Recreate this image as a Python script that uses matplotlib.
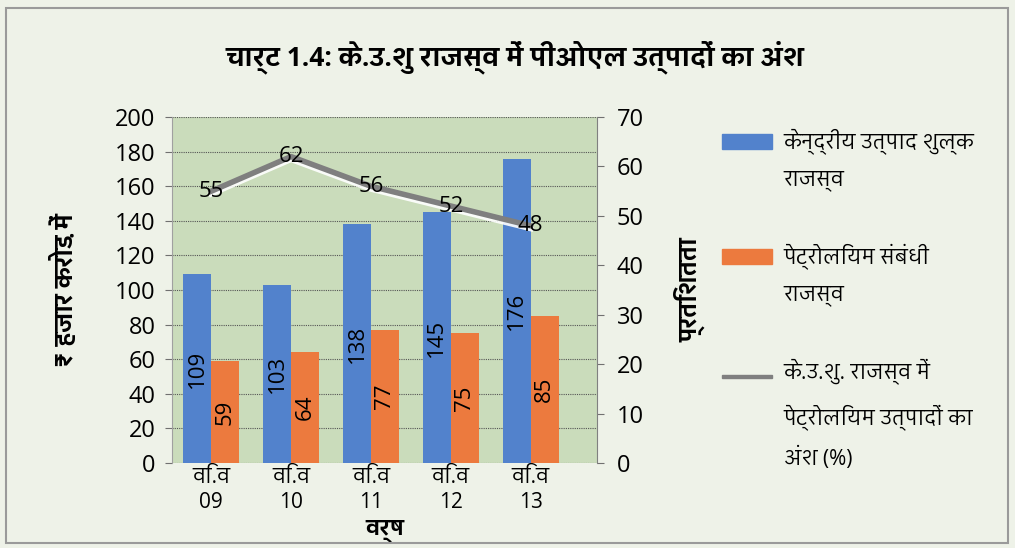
import matplotlib
matplotlib.use('Agg')
from matplotlib import pyplot as pl
from matplotlib import font_manager as fm
from matplotlib import patheffects as pe
from matplotlib.ft2font import FT2Font
from matplotlib.patches import Rectangle, Patch
from matplotlib.legend_handler import HandlerPatch
import numpy as np

years = ['वि.व\n09', 'वि.व\n10', 'वि.व\n11', 'वि.व\n12', 'वि.व\n13']
excise = [109, 103, 138, 145, 176]
petro = [59, 64, 77, 75, 85]
share = [55, 62, 56, 52, 48]

labels = [
    'केन्द्रीय उत्पाद शुल्क\nराजस्व',
    'पेट्रोलियम संबंधी\nराजस्व',
    'के.उ.शु. राजस्व में\nपेट्रोलियम उत्पादों का\nअंश (%)',
]
title = 'चार्ट 1.4: के.उ.शु राजस्व में पीओएल उत्पादों का अंश'


def find_devanagari():
    # collect fonts with devanagari glyphs, prefer proportional ones with a bold face
    found = {}
    for f in fm.fontManager.ttflist:
        try:
            cmap = FT2Font(f.fname).get_charmap()
        except Exception:
            continue
        if 0x0915 not in cmap:
            continue
        found.setdefault(f.name, set()).add(f.weight)
    best, best_score = None, -999
    for name, weights in found.items():
        score = 0
        low = name.lower()
        if 'mono' in low or 'code' in low:
            score -= 20
        if 'devanagari' in low:
            score += 10
        if 'sans' in low:
            score += 3
        if 'ui' in low.split():
            score -= 1
        if any(isinstance(wt, int) and wt >= 600 or wt == 'bold' for wt in weights):
            score += 5
        if score > best_score:
            best, best_score = name, score
    return best


dev = find_devanagari()
family = ['Open Sans', 'DejaVu Sans']
if dev:
    family = ['Open Sans', dev, 'DejaVu Sans']
pl.rcParams['font.family'] = family

blue = '#5282cc'
orange = '#ec7a3e'
grey = '#7f7f7f'
bg = '#eef2e8'
plotbg = '#cadcbb'

legsize = 15
pitch = 27.5  # points between lines of a legend label


def top_aligned(nlines, thin=False):
    # legend handle drawn level with the first line of a multi-line label
    def make(legend, orig_handle, xdescent, ydescent, width, height, fontsize):
        up = (nlines - 1) * pitch / 2
        if thin:
            return Rectangle((-xdescent, -ydescent + height/2 - 1.2 + up), width, 2.4)
        return Rectangle((-xdescent, -ydescent + up), width, height)
    return make


fig = pl.figure(figsize=(10.15, 5.48), dpi=100, facecolor=bg)
fig.patches.append(Rectangle((0.006, 0.01), 0.987, 0.975, transform=fig.transFigure,
                             fill=False, edgecolor='#9a9a9a', linewidth=1.5))

ax = fig.add_axes([0.1695, 0.155, 0.4187, 0.6314])
ax.set_facecolor(plotbg)

x = np.arange(len(years))
w = 0.35
b1 = ax.bar(x - w/2, excise, w, color=blue, zorder=2)
b2 = ax.bar(x + w/2, petro, w, color=orange, zorder=2)
ax.bar_label(b1, label_type='center', rotation=90, fontsize=16)
ax.bar_label(b2, label_type='center', rotation=90, fontsize=16)

ax.set_xlim(-0.49, 4.83)
ax.set_ylim(0, 200)
ax.set_yticks(range(0, 201, 20))
ax.set_xticks(x)
ax.set_xticklabels(years, fontsize=15, linespacing=1.25)
ax.tick_params(axis='x', length=0, pad=3)
ax.tick_params(axis='y', direction='out', length=5, color='#707070', labelsize=17, pad=7)
ax.grid(axis='y', color='#555555', linestyle=(0, (1, 1)), linewidth=0.8, zorder=1)
for s in ['top', 'bottom']:
    ax.spines[s].set_visible(False)
ax.spines['left'].set_color('#a0a0a0')
ax.spines['right'].set_visible(False)

ax2 = ax.twinx()
ax2.set_ylim(0, 70)
ax2.set_yticks(range(0, 71, 10))
ax2.tick_params(axis='y', direction='out', length=5, color='#707070', labelsize=17, pad=9)
for s in ['top', 'bottom', 'left']:
    ax2.spines[s].set_visible(False)
ax2.spines['right'].set_color('#808080')
ax2.plot(x, share, color=grey, linewidth=4, solid_joinstyle='round',
         path_effects=[pe.SimpleLineShadow(offset=(0, -2), shadow_color='white', alpha=0.9),
                       pe.Normal()])
for xi, v in zip(x, share):
    ax2.text(xi, v, str(v), ha='center', va='center', fontsize=16)

ax.set_ylabel('₹ हजार करोड़ में', fontsize=17, fontweight='bold', labelpad=26)
ax2.set_ylabel('प्रतिशतता', fontsize=17, fontweight='bold', labelpad=22)
ax.set_xlabel('वर्ष', fontsize=16, fontweight='bold', labelpad=5)

fig.text(0.507, 0.895, title, ha='center', va='center', fontsize=19, fontweight='bold')

handles = [Patch(color=blue), Patch(color=orange), Patch(color=grey)]
hmap = {
    handles[0]: HandlerPatch(patch_func=top_aligned(2)),
    handles[1]: HandlerPatch(patch_func=top_aligned(2)),
    handles[2]: HandlerPatch(patch_func=top_aligned(3, thin=True)),
}
leg = fig.legend(handles, labels, loc='upper left', bbox_to_anchor=(0.693, 0.80),
                 frameon=False, fontsize=legsize, handlelength=2.4, handletextpad=0.55,
                 labelspacing=2.5, handler_map=hmap)
for t in leg.get_texts():
    t.set_linespacing(1.95)

fig.savefig('out.png', dpi=100, facecolor=bg)
